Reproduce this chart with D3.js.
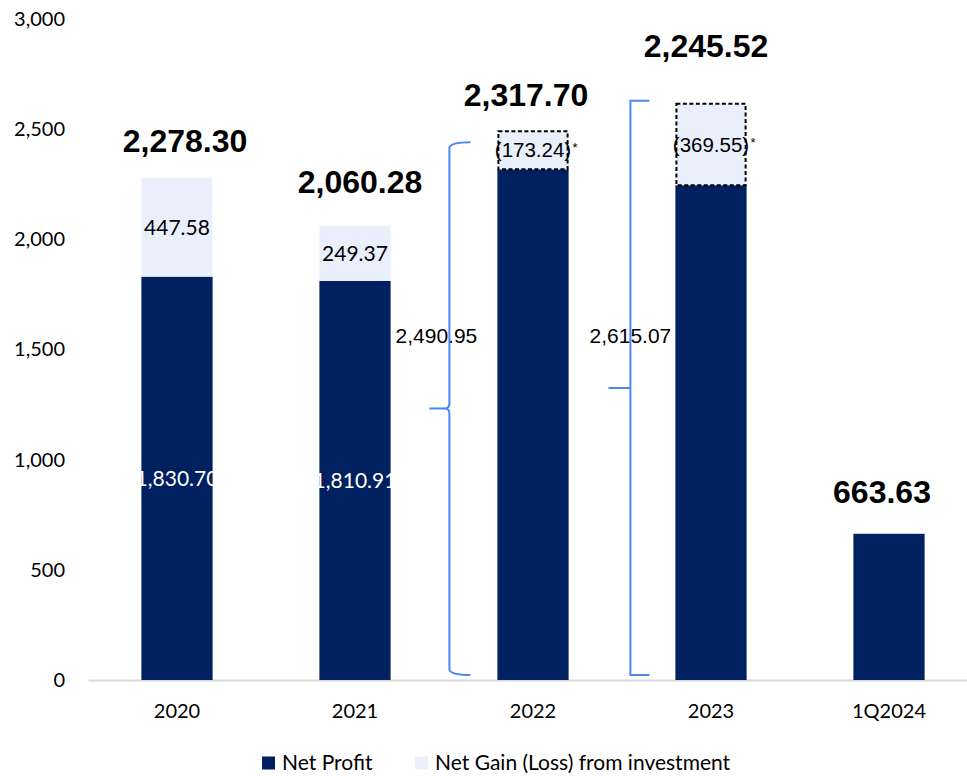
<!DOCTYPE html>
<html>
<head>
<meta charset="utf-8">
<script src="https://cdn.jsdelivr.net/npm/d3@7/dist/d3.min.js"></script>
<style>
  html, body { margin: 0; padding: 0; background: #fff; }
  svg { display: block; }
</style>
</head>
<body>
<svg id="chart" width="967" height="776"></svg>
<script>
// Annual net profit with net gain / (loss) from investment
const categories = ["2020", "2021", "2022", "2023", "1Q2024"];
const netProfit = [1830.70, 1810.91, 2317.70, 2245.52, 663.63];
const investmentGain = [447.58, 249.37, -173.24, -369.55, 0];
const totalLabels = [2278.30, 2060.28, 2317.70, 2245.52, 663.63];
const profitExInvestment = [null, null, 2490.95, 2615.07, null];
const yTicks = [0, 500, 1000, 1500, 2000, 2500, 3000];
const seriesNames = ["Net Profit", "Net Gain (Loss) from investment"];

const DARK = "#002060";
const LIGHT = "#E9F0FC";
const BRACE = "#4A86F5";
const CAL = "Lato, 'Open Sans', sans-serif";
const ARIAL = "'Liberation Sans', Arial, sans-serif";

const svg = d3.select("#chart");

const x = d3.scaleBand()
  .domain(categories)
  .range([88, 978])
  .paddingInner(0.6)
  .paddingOuter(0.3);

const y = d3.scaleLinear().domain([0, 3000]).range([680, 19]);

const fmt = d3.format(",.2f");

// Y axis labels (no line)
const yAxis = svg.append("g")
  .attr("transform", `translate(${x.range()[0]},0)`)
  .call(d3.axisLeft(y).tickValues(yTicks).tickSize(0).tickPadding(23).tickFormat(d3.format(",")));
yAxis.select(".domain").remove();
yAxis.selectAll("text")
  .attr("font-family", CAL).attr("font-size", 20).attr("fill", "#000");

// X axis
const xAxis = svg.append("g")
  .attr("transform", `translate(0,${y(0)})`)
  .call(d3.axisBottom(x).tickSize(0).tickPadding(24));
xAxis.select(".domain").attr("stroke", "#D9D9D9").attr("stroke-width", 2);
xAxis.selectAll("text")
  .attr("font-family", CAL).attr("font-size", 20).attr("fill", "#000");

const rows = categories.map((c, i) => ({
  cat: c,
  np: netProfit[i],
  gain: investmentGain[i],
  total: totalLabels[i],
  core: profitExInvestment[i]
}));

// Net profit bars
svg.append("g").selectAll("rect")
  .data(rows).join("rect")
  .attr("x", d => x(d.cat))
  .attr("width", x.bandwidth())
  .attr("y", d => y(d.np))
  .attr("height", d => y(0) - y(d.np))
  .attr("fill", DARK);

// Positive investment gains stacked on top
svg.append("g").selectAll("rect")
  .data(rows.filter(d => d.gain > 0)).join("rect")
  .attr("x", d => x(d.cat))
  .attr("width", x.bandwidth())
  .attr("y", d => y(d.np + d.gain))
  .attr("height", d => y(d.np) - y(d.np + d.gain))
  .attr("fill", LIGHT);

// Investment losses drawn as dashed boxes above net profit
const lossRows = rows.filter(d => d.gain < 0);
svg.append("g").selectAll("rect")
  .data(lossRows).join("rect")
  .attr("x", d => x(d.cat) + 1)
  .attr("width", x.bandwidth() - 2)
  .attr("y", d => y(d.np - d.gain))
  .attr("height", d => y(d.np) - y(d.np - d.gain))
  .attr("fill", LIGHT)
  .attr("stroke", "#000")
  .attr("stroke-width", 2)
  .attr("stroke-dasharray", "4,2.5");

// Labels inside segments
svg.append("g").selectAll("text")
  .data(rows.filter(d => d.gain > 0)).join("text")
  .attr("x", d => x(d.cat) + x.bandwidth() / 2)
  .attr("y", d => y(d.np + d.gain / 2))
  .attr("dy", "0.35em")
  .attr("text-anchor", "middle")
  .attr("font-family", CAL).attr("font-size", 21).attr("fill", "#000")
  .text(d => fmt(d.gain));

svg.append("g").selectAll("text")
  .data(rows.filter(d => d.gain > 0)).join("text")
  .attr("x", d => x(d.cat) + x.bandwidth() / 2)
  .attr("y", d => y(d.np / 2))
  .attr("dy", "0.35em")
  .attr("text-anchor", "middle")
  .attr("font-family", CAL).attr("font-size", 21).attr("fill", "#fff")
  .text(d => fmt(d.np));

const lossLabels = svg.append("g").selectAll("g")
  .data(lossRows).join("g");
lossLabels.append("text")
  .attr("x", d => x(d.cat) + x.bandwidth() / 2)
  .attr("y", d => y(d.np - d.gain / 2))
  .attr("dy", "0.35em")
  .attr("text-anchor", "middle")
  .attr("font-family", ARIAL).attr("font-size", 20.5).attr("fill", "#000")
  .text(d => `(${fmt(-d.gain)})`);
lossLabels.append("text")
  .attr("x", d => x(d.cat) + x.bandwidth() + 4)
  .attr("y", d => y(d.np - d.gain / 2) + 2)
  .attr("font-family", ARIAL).attr("font-size", 13).attr("fill", "#000")
  .text("*");

// Total labels above each bar
const labelLift = [26, 33, 25, 47, 31];
const labelShift = [8, 5, -7, -5, -7];
svg.append("g").selectAll("text")
  .data(rows).join("text")
  .attr("x", (d, i) => x(d.cat) + x.bandwidth() / 2 + labelShift[i])
  .attr("y", (d, i) => y(Math.max(d.np + Math.abs(d.gain), d.np)) - labelLift[i])
  .attr("text-anchor", "middle")
  .attr("font-family", ARIAL).attr("font-size", 32).attr("font-weight", "bold")
  .attr("fill", "#000")
  .text(d => fmt(d.total));

// Brackets marking profit before investment loss
const coreRows = rows.filter(d => d.core != null);
const braceLabelY = y(1530);

svg.append("g").selectAll("text")
  .data(coreRows).join("text")
  .attr("x", (d, i) => x(d.cat) - (i === 0 ? 61 : 45))
  .attr("y", braceLabelY)
  .attr("text-anchor", "middle")
  .attr("font-family", ARIAL).attr("font-size", 21).attr("fill", "#000")
  .text(d => fmt(d.core));

const braceG = svg.append("g")
  .attr("fill", "none").attr("stroke", BRACE).attr("stroke-width", 2);

coreRows.forEach((d, i) => {
  const p = d3.path();
  if (i === 0) {
    // curly brace
    const bx = x(d.cat) - 48;
    const top = y(d.core) + 11;
    const bot = y(0) - 5;
    const mid = (top + bot) / 2;
    p.moveTo(bx + 21, top);
    p.quadraticCurveTo(bx, top, bx, top + 6);
    p.lineTo(bx, mid - 5);
    p.quadraticCurveTo(bx, mid, bx - 5, mid);
    p.lineTo(bx - 20, mid);
    p.moveTo(bx - 5, mid);
    p.quadraticCurveTo(bx, mid, bx, mid + 5);
    p.lineTo(bx, bot - 6);
    p.quadraticCurveTo(bx, bot, bx + 21, bot);
  } else {
    // square bracket with center tick
    const bx = x(d.cat) - 45;
    const top = y(d.core) - 3;
    const bot = y(0) - 5;
    const mid = (top + bot) / 2;
    p.moveTo(bx + 19, top);
    p.lineTo(bx, top);
    p.lineTo(bx, bot);
    p.lineTo(bx + 19, bot);
    p.moveTo(bx - 22, mid);
    p.lineTo(bx, mid);
  }
  braceG.append("path").attr("d", p.toString());
});

// Legend
const legend = svg.append("g").attr("transform", "translate(262,763)");
const legendItems = [
  { name: seriesNames[0], color: DARK, x: 0 },
  { name: seriesNames[1], color: LIGHT, x: 153 }
];
const li = legend.selectAll("g").data(legendItems).join("g")
  .attr("transform", d => `translate(${d.x},0)`);
li.append("rect")
  .attr("x", 0).attr("y", -6.5).attr("width", 13).attr("height", 13)
  .attr("fill", d => d.color);
li.append("text")
  .attr("x", 20).attr("dy", "0.35em")
  .attr("font-family", CAL).attr("font-size", 21).attr("fill", "#000")
  .text(d => d.name);
</script>
</body>
</html>
